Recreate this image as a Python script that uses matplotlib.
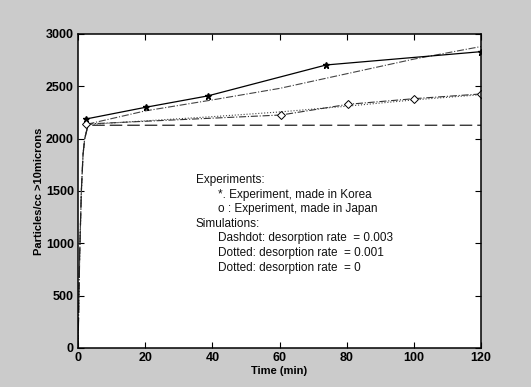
import matplotlib.pyplot as plt
import numpy as np

# measured particle counts
t_korea = [2.4, 20.2, 38.6, 73.9, 120]
n_korea = [2188, 2300, 2408, 2704, 2831]
t_japan = [2.4, 60.5, 80.4, 100.1, 120]
n_japan = [2140, 2226, 2328, 2382, 2427]

# simulated curves for three desorption rates
t_sim = [0, 0.5, 1, 1.5, 2, 3, 20, 40, 60, 80, 100, 120]
n_sim_003 = [0, 900, 1500, 1850, 2000, 2140, 2265, 2370, 2480, 2620, 2760, 2880]
n_sim_001 = [0, 900, 1500, 1850, 2000, 2135, 2170, 2210, 2255, 2310, 2370, 2420]
n_sim_0 = [0, 900, 1500, 1850, 2000, 2128, 2128, 2128, 2128, 2128, 2128, 2128]

x_ticks = [0, 20, 40, 60, 80, 100, 120]
y_ticks = [0, 500, 1000, 1500, 2000, 2500, 3000]

legend_lines = [
    ('Experiments:', 0),
    ('*. Experiment, made in Korea', 1),
    ('o : Experiment, made in Japan', 1),
    ('Simulations:', 0),
    ('Dashdot: desorption rate  = 0.003', 1),
    ('Dotted: desorption rate  = 0.001', 1),
    ('Dotted: desorption rate  = 0', 1),
]

plt.rcParams['font.family'] = ['Liberation Sans', 'DejaVu Sans']

fig = plt.figure(figsize=(5.31, 3.87), dpi=100, facecolor='#cbcbcb')
ax = fig.add_axes([0.1469, 0.1008, 0.759, 0.8114])
ax.set_facecolor('white')

ax.plot(t_sim, n_sim_003, color='#444444', lw=0.8, ls='-.')
ax.plot(t_sim, n_sim_001, color='#444444', lw=0.8, ls=':')
ax.plot(t_sim, n_sim_0, color='#222222', lw=0.9, ls=(0, (10, 4)))
ax.plot(t_korea, n_korea, color='black', lw=0.9, marker='*', ms=5)
ax.plot(t_japan, n_japan, color='#333333', lw=0.8, ls='-.', marker='D',
        ms=4.5, mfc='white', mec='black', mew=0.7)

ax.set_xlim(0, 120)
ax.set_ylim(0, 3000)
ax.set_xticks(x_ticks)
ax.set_yticks(y_ticks)
ax.tick_params(direction='in', length=4, width=0.8, top=True, right=True,
               labelsize=9, pad=3)
for lab in ax.get_xticklabels() + ax.get_yticklabels():
    lab.set_fontweight('bold')
    lab.set_family(['Liberation Sans Narrow', 'Liberation Sans'])
for s in ax.spines.values():
    s.set_linewidth(1.1)
    s.set_color('black')

ax.set_xlabel('Time (min)', fontsize=8, fontweight='bold', labelpad=1)
ax.set_ylabel('Particles/cc >10microns', fontsize=8, fontweight='bold', labelpad=1)

y0 = 180
for txt, indent in legend_lines:
    x = 196 if indent == 0 else 218
    fig.text(x / 531, 1 - y0 / 387, txt, fontsize=8.5, va='center', ha='left',
             color='#111111')
    y0 += 14.6

fig.savefig('out.png', dpi=100, facecolor=fig.get_facecolor())
